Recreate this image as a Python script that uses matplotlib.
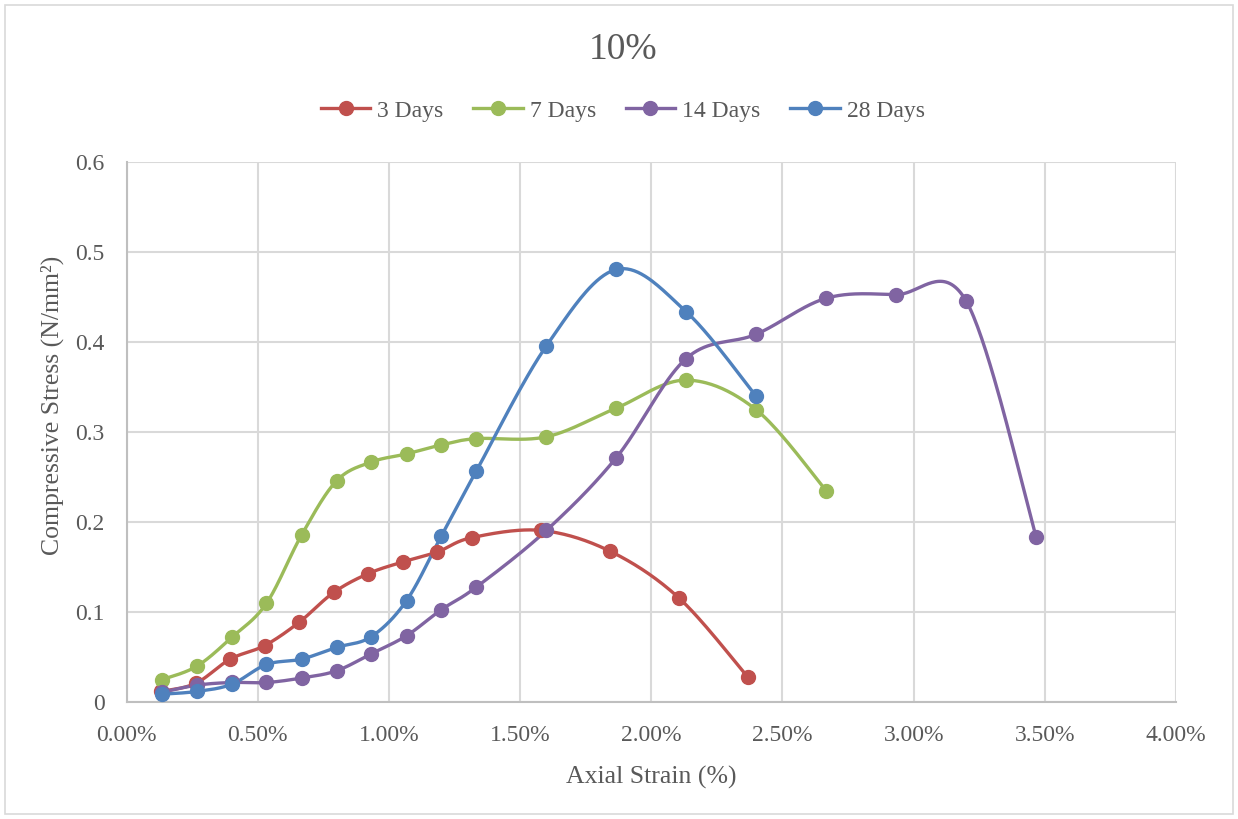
import numpy as np
import matplotlib
matplotlib.use("Agg")
import matplotlib.pyplot as plt
from matplotlib.patches import Rectangle

# Axial strain (%) and compressive stress (N/mm2)
strain_3d = [0.132, 0.263, 0.395, 0.526, 0.658, 0.789, 0.921, 1.053, 1.184, 1.316,
             1.579, 1.842, 2.105, 2.368]
stress_3d = [0.012, 0.021, 0.048, 0.063, 0.089, 0.122, 0.143, 0.156, 0.167, 0.183,
             0.191, 0.168, 0.116, 0.028]

strain_7d = [0.133, 0.267, 0.400, 0.533, 0.667, 0.800, 0.933, 1.067, 1.200, 1.333,
             1.600, 1.867, 2.133, 2.400, 2.667]
stress_7d = [0.025, 0.040, 0.072, 0.110, 0.186, 0.246, 0.267, 0.276, 0.286, 0.293,
             0.295, 0.327, 0.358, 0.325, 0.235]

strain_14d = [0.133, 0.267, 0.400, 0.533, 0.667, 0.800, 0.933, 1.067, 1.200, 1.333,
              1.600, 1.867, 2.133, 2.400, 2.667, 2.933, 3.200, 3.467]
stress_14d = [0.011, 0.019, 0.022, 0.022, 0.027, 0.035, 0.054, 0.074, 0.103, 0.128,
              0.191, 0.272, 0.382, 0.409, 0.449, 0.453, 0.446, 0.184]

strain_28d = [0.133, 0.267, 0.400, 0.533, 0.667, 0.800, 0.933, 1.067, 1.200, 1.333,
              1.600, 1.867, 2.133, 2.400]
stress_28d = [0.009, 0.012, 0.020, 0.042, 0.048, 0.061, 0.073, 0.113, 0.185, 0.257,
              0.396, 0.481, 0.434, 0.340]

labels = ["3 Days", "7 Days", "14 Days", "28 Days"]
colors = ["#C0504D", "#9BBB59", "#8064A2", "#4F81BD"]

x_ticks = [0, 0.5, 1.0, 1.5, 2.0, 2.5, 3.0, 3.5, 4.0]
y_ticks = [0, 0.1, 0.2, 0.3, 0.4, 0.5, 0.6]

text_color = "#595959"
plt.rcParams["font.family"] = ["Liberation Serif", "DejaVu Serif"]


def smooth(xs, ys, n=40):
    # Excel-like smoothed line: cubic Bezier through the points
    P = np.column_stack([xs, ys]).astype(float)
    out = [P[0]]
    t = np.linspace(0, 1, n)[1:, None]
    for i in range(len(P) - 1):
        p0 = P[i - 1] if i > 0 else P[i]
        p1, p2 = P[i], P[i + 1]
        p3 = P[i + 2] if i + 2 < len(P) else P[i + 1]
        c1 = p1 + (p2 - p0) / 6
        c2 = p2 - (p3 - p1) / 6
        seg = (1 - t) ** 3 * p1 + 3 * (1 - t) ** 2 * t * c1 + 3 * (1 - t) * t ** 2 * c2 + t ** 3 * p2
        out.extend(seg)
    return np.array(out)


fig = plt.figure(figsize=(12.38, 8.19), dpi=100)
ax = fig.add_axes([0.1023, 0.1425, 0.8476, 0.6593])

series = [(strain_3d, stress_3d), (strain_7d, stress_7d),
          (strain_14d, stress_14d), (strain_28d, stress_28d)]
for (xs, ys), lab, col in zip(series, labels, colors):
    curve = smooth(xs, ys)
    ax.plot(curve[:, 0], curve[:, 1], color=col, linewidth=2.4, solid_capstyle="round", zorder=3)
    ax.plot(xs, ys, linestyle="none", marker="o", markersize=10, color=col, zorder=4)
    # legend proxy
    ax.plot([], [], color=col, linewidth=2.4, marker="o", markersize=10, label=lab)

ax.set_xlim(0, 4.0)
ax.set_ylim(0, 0.6)
ax.set_xticks(x_ticks)
ax.set_yticks(y_ticks)
ax.set_xticklabels([f"{v:.2f}%" for v in x_ticks])
ax.set_yticklabels(["0"] + [f"{v:.1f}" for v in y_ticks[1:]])
ax.tick_params(length=0, labelsize=17, colors=text_color)
ax.tick_params(axis="x", pad=16)
ax.tick_params(axis="y", pad=16)
ax.grid(True, color="#D9D9D9", linewidth=1.5, zorder=0)
ax.set_axisbelow(True)
for side in ["top", "right"]:
    ax.spines[side].set_visible(False)
for side in ["left", "bottom"]:
    ax.spines[side].set_color("#BFBFBF")
    ax.spines[side].set_linewidth(1.5)

ax.set_xlabel("Axial Strain (%)", fontsize=18.5, color=text_color, labelpad=15)
ax.set_ylabel("Compressive Stress (N/mm²)", fontsize=18.5, color=text_color)
ax.yaxis.set_label_coords(-0.06, 0.55)

fig.text(0.503, 0.939, "10%", ha="center", va="center", fontsize=27, color=text_color)
fig.legend(loc="center", bbox_to_anchor=(0.503, 0.8645), ncol=4, frameon=False,
           fontsize=17, labelcolor=text_color, handlelength=2.1, handletextpad=0.3,
           columnspacing=1.25)

fig.patches.append(Rectangle((0.004, 0.006), 0.992, 0.988, transform=fig.transFigure,
                             fill=False, edgecolor="#D9D9D9", linewidth=1.2))

fig.savefig("out.png", dpi=100, facecolor="white")
